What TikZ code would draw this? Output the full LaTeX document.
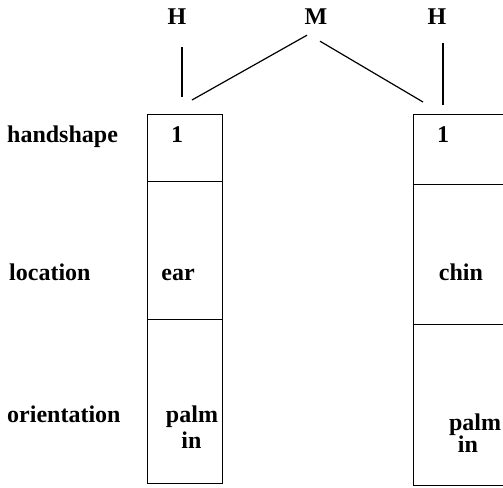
\documentclass[tikz,border=0pt]{standalone}
\usepackage{fontspec}
\setmainfont{Liberation Serif}
\begin{document}
\begin{tikzpicture}[x=1pt,y=-1pt,
  txt/.style={font=\bfseries\fontsize{24}{27}\selectfont, inner sep=0pt, anchor=base},
  lbl/.style={txt, anchor=base west},
  cell/.style={draw, line width=1.3pt, rectangle, inner sep=0pt, anchor=north west},
  tie/.style={line width=1.2pt}]
\clip (0,0) rectangle (503,487);

% tier labels
\node[txt] (Hl) at (177,25) {H};
\node[txt] (M)  at (316,25) {M};
\node[txt] (Hr) at (437,25) {H};

% row labels
\node[lbl] (rh) at (7,142) {handshape};
\node[lbl] (rl) at (9,280) {location};
\node[lbl] (ro) at (7,422) {orientation};

% left column
\node[cell, minimum width=75pt, minimum height=67pt]  (c1l) at (147,114) {};
\node[cell, minimum width=75pt, minimum height=138pt] (c2l) at (147,181) {};
\node[cell, minimum width=75pt, minimum height=164pt] (c3l) at (147,319) {};

% right column (runs off the right edge)
\node[cell, minimum width=120pt, minimum height=70pt]  (c1r) at (413,114) {};
\node[cell, minimum width=120pt, minimum height=140pt] (c2r) at (413,184) {};
\node[cell, minimum width=120pt, minimum height=161pt] (c3r) at (413,324) {};

% cell contents
\node[txt] (v1l) at (177,142) {1};
\node[txt] (v2l) at (178,280) {ear};
\node[txt] (v3l) at (192,422) {palm};
\node[txt] (v4l) at (191.5,448) {in};
\node[txt] (v1r) at (443,142) {1};
\node[txt] (v2r) at (461,280) {chin};
\node[txt] (v3r) at (475,430) {palm};
\node[txt] (v4r) at (468,452) {in};

% association lines
\draw[tie, shorten <=22pt, shorten >=17pt]
  ([xshift=5pt]Hl.south) -- ([xshift=5pt]Hl.south |- c1l.north);
\draw[tie, shorten <=18pt, shorten >=9pt]
  ([xshift=6pt]Hr.south) -- ([xshift=6pt]Hr.south |- c1r.north);
\draw[tie] ([xshift=-9pt,yshift=-10pt]M.south) -- ([xshift=45pt,yshift=14pt]c1l.north west);
\draw[tie] ([xshift=4pt,yshift=-16pt]M.south) -- ([xshift=10pt,yshift=12pt]c1r.north west);
\end{tikzpicture}
\end{document}
